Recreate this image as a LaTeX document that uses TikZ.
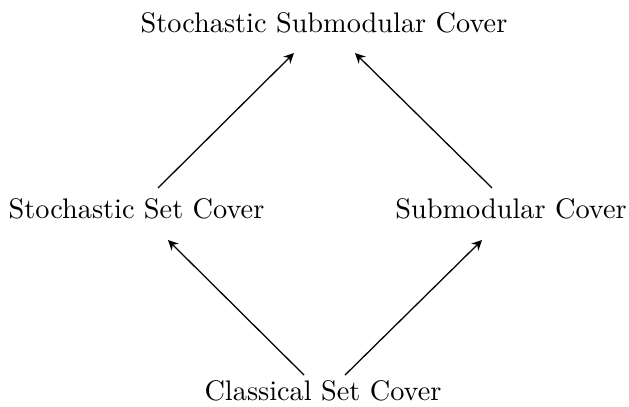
\documentclass[tikz,border=0pt]{standalone}
\usetikzlibrary{arrows.meta}
\tikzset{
  lbl/.style = {anchor = base, inner sep = 0pt},
  arr/.style = {-{Stealth[length=3.6pt,width=3.5pt,inset=1.2pt]}, draw = black, line width = 0.45pt}
}
\begin{document}
\begin{tikzpicture}
\useasboundingbox (0,0) rectangle (7.812,5.043);
\node[lbl] (ssc) at (4.024,4.645) {Stochastic Submodular Cover};
\node[lbl] (stsc) at (1.695,2.335) {Stochastic Set Cover};
\node[lbl] (smc) at (6.347,2.335) {Submodular Cover};
\node[lbl] (csc) at (4.012,0.075) {Classical Set Cover};
\draw[arr] ([shift={(-0.236,0.310)}]csc.base) -- ([shift={(0.391,-0.273)}]stsc.base);
\draw[arr] ([shift={(0.273,0.310)}]csc.base) -- ([shift={(-0.360,-0.273)}]smc.base);
\draw[arr] ([shift={(0.267,0.373)}]stsc.base) -- ([shift={(-0.373,-0.261)}]ssc.base);
\draw[arr] ([shift={(-0.236,0.373)}]smc.base) -- ([shift={(0.385,-0.261)}]ssc.base);
\end{tikzpicture}
\end{document}
